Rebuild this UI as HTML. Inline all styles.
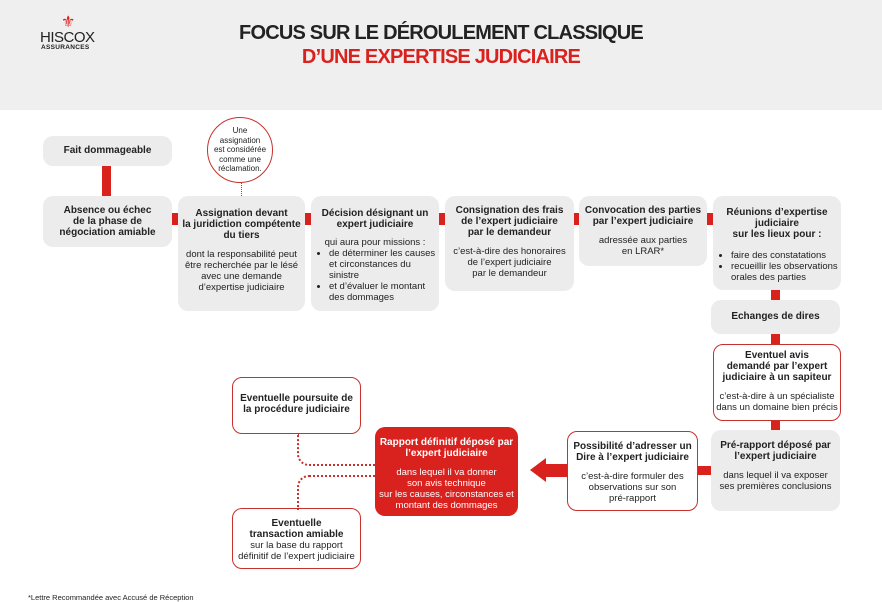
<!DOCTYPE html>
<html><head><meta charset="utf-8"><style>
body{margin:0;width:882px;height:600px;background:#fff;position:relative;overflow:hidden;font-family:"Liberation Sans",Arial,sans-serif;color:#222}
.hdr{position:absolute;left:0;top:0;width:882px;height:110px;background:#efefef}
.b{position:absolute;box-sizing:border-box;border-radius:10px;background:#ececec;text-align:center;font-size:9.5px;line-height:11px;padding-top:9px}
.w{background:#fff;border:1.3px solid #c8302c}
.b b{display:block;font-size:10px;line-height:11px;margin-bottom:8px}
.r{position:absolute;background:#d9211e}
ul{margin:0;padding:0 0 0 18px;text-align:left}
li{margin:0}
.dot{position:absolute;border-color:#c8302c;border-style:dotted;border-width:0}
</style></head><body>
<div class="hdr"></div>
<div style="position:absolute;left:61px;top:12px;color:#d9211e;font-size:16px">⚜</div>
<div style="position:absolute;left:40px;top:29px;font-size:15px;letter-spacing:-.5px;color:#222">HISCOX</div>
<div style="position:absolute;left:41px;top:44px;font-size:6.5px;font-weight:bold;letter-spacing:.3px">ASSURANCES</div>
<div style="position:absolute;left:0;width:882px;top:21px;text-align:center;font-weight:bold;font-size:20px;letter-spacing:-.8px;line-height:24px">FOCUS SUR LE DÉROULEMENT CLASSIQUE<br><span style="color:#d9211e">D’UNE EXPERTISE JUDICIAIRE</span></div>

<div class="b" style="left:43px;top:136px;width:129px;height:30px"><b>Fait dommageable</b></div>
<div class="r" style="left:102px;top:166px;width:9px;height:30px"></div>
<div class="b" style="left:43px;top:196px;width:129px;height:51px"><b>Absence ou échec<br>de la phase de<br>négociation amiable</b></div>
<div class="r" style="left:172px;top:213px;width:6px;height:12px"></div>
<div class="b" style="left:178px;top:196px;width:127px;height:115px;padding-top:12px"><b>Assignation devant<br>la juridiction compétente<br>du tiers</b>dont la responsabilité peut<br>être recherchée par le lésé<br>avec une demande<br>d’expertise judiciaire</div>
<div class="r" style="left:305px;top:213px;width:6px;height:12px"></div>
<div class="b" style="left:311px;top:196px;width:128px;height:115px;padding-top:12px"><b>Décision désignant un<br>expert judiciaire</b><div style="margin-top:-1px">qui aura pour missions :</div><ul><li>de déterminer les causes et circonstances du sinistre</li><li>et d’évaluer le montant des dommages</li></ul></div>
<div class="r" style="left:439px;top:213px;width:6px;height:12px"></div>
<div class="b" style="left:445px;top:196px;width:129px;height:95px"><b>Consignation des frais<br>de l’expert judiciaire<br>par le demandeur</b>c’est-à-dire des honoraires<br>de l’expert judiciaire<br>par le demandeur</div>
<div class="r" style="left:574px;top:213px;width:5px;height:12px"></div>
<div class="b" style="left:579px;top:196px;width:128px;height:70px"><b>Convocation des parties<br>par l’expert judiciaire</b>adressée aux parties<br>en LRAR*</div>
<div class="r" style="left:707px;top:213px;width:6px;height:12px"></div>
<div class="b" style="left:713px;top:196px;width:128px;height:94px;padding-top:11px"><b style="margin-bottom:10px">Réunions d’expertise<br>judiciaire<br>sur les lieux pour :</b><ul><li>faire des constatations</li><li>recueillir les observations orales des parties</li></ul></div>
<div class="r" style="left:771px;top:290px;width:9px;height:10px"></div>
<div class="b" style="left:711px;top:300px;width:129px;height:34px;padding-top:11px"><b>Echanges de dires</b></div>
<div class="r" style="left:771px;top:334px;width:9px;height:10px"></div>
<div class="b w" style="left:713px;top:344px;width:128px;height:77px;padding-top:5px"><b>Eventuel avis<br>demandé par l’expert<br>judiciaire à un sapiteur</b>c’est-à-dire à un spécialiste<br>dans un domaine bien précis</div>
<div class="r" style="left:771px;top:421px;width:9px;height:9px"></div>
<div class="b" style="left:711px;top:430px;width:129px;height:81px;padding-top:10px"><b>Pré-rapport déposé par<br>l’expert judiciaire</b>dans lequel il va exposer<br>ses premières conclusions</div>
<div class="r" style="left:698px;top:466px;width:13px;height:9px"></div>
<div class="b w" style="left:567px;top:431px;width:131px;height:80px"><b>Possibilité d’adresser un<br>Dire à l’expert judiciaire</b>c’est-à-dire formuler des<br>observations sur son<br>pré-rapport</div>
<div class="r" style="left:545px;top:464px;width:22px;height:13px"></div>
<div style="position:absolute;left:530px;top:458px;width:0;height:0;border-top:12px solid transparent;border-bottom:12px solid transparent;border-right:16px solid #d9211e"></div>
<div class="b" style="left:375px;top:427px;width:143px;height:89px;background:#d9211e;color:#fff;padding-top:10px"><b>Rapport définitif déposé par<br>l’expert judiciaire</b>dans lequel il va donner<br>son avis technique<br>sur les causes, circonstances et<br>montant des dommages</div>
<div class="b w" style="left:232px;top:377px;width:129px;height:57px;padding-top:15px"><b>Eventuelle poursuite de<br>la procédure judiciaire</b></div>
<div class="b w" style="left:232px;top:508px;width:129px;height:61px;padding-top:9px"><b style="margin-bottom:0">Eventuelle<br>transaction amiable</b>sur la base du rapport<br>définitif de l’expert judiciaire</div>
<div class="dot" style="left:297px;top:434px;height:30px;border-left-width:2px;border-bottom-width:2px;border-bottom-left-radius:12px;width:78px"></div>
<div class="dot" style="left:297px;top:475px;height:33px;width:78px;border-left-width:2px;border-top-width:2px;border-top-left-radius:12px"></div>
<div style="position:absolute;left:207px;top:117px;width:66px;height:66px;border:1.3px solid #c8302c;border-radius:50%;background:#fff;box-sizing:border-box;text-align:center;font-size:8px;line-height:9.5px;padding-top:8px">Une<br>assignation<br>est considérée<br>comme une<br>réclamation.</div>
<div class="dot" style="left:241px;top:183px;height:13px;border-left-width:1.5px"></div>
<div style="position:absolute;left:28px;top:593px;font-size:7.5px">*Lettre Recommandée avec Accusé de Réception</div>
</body></html>
